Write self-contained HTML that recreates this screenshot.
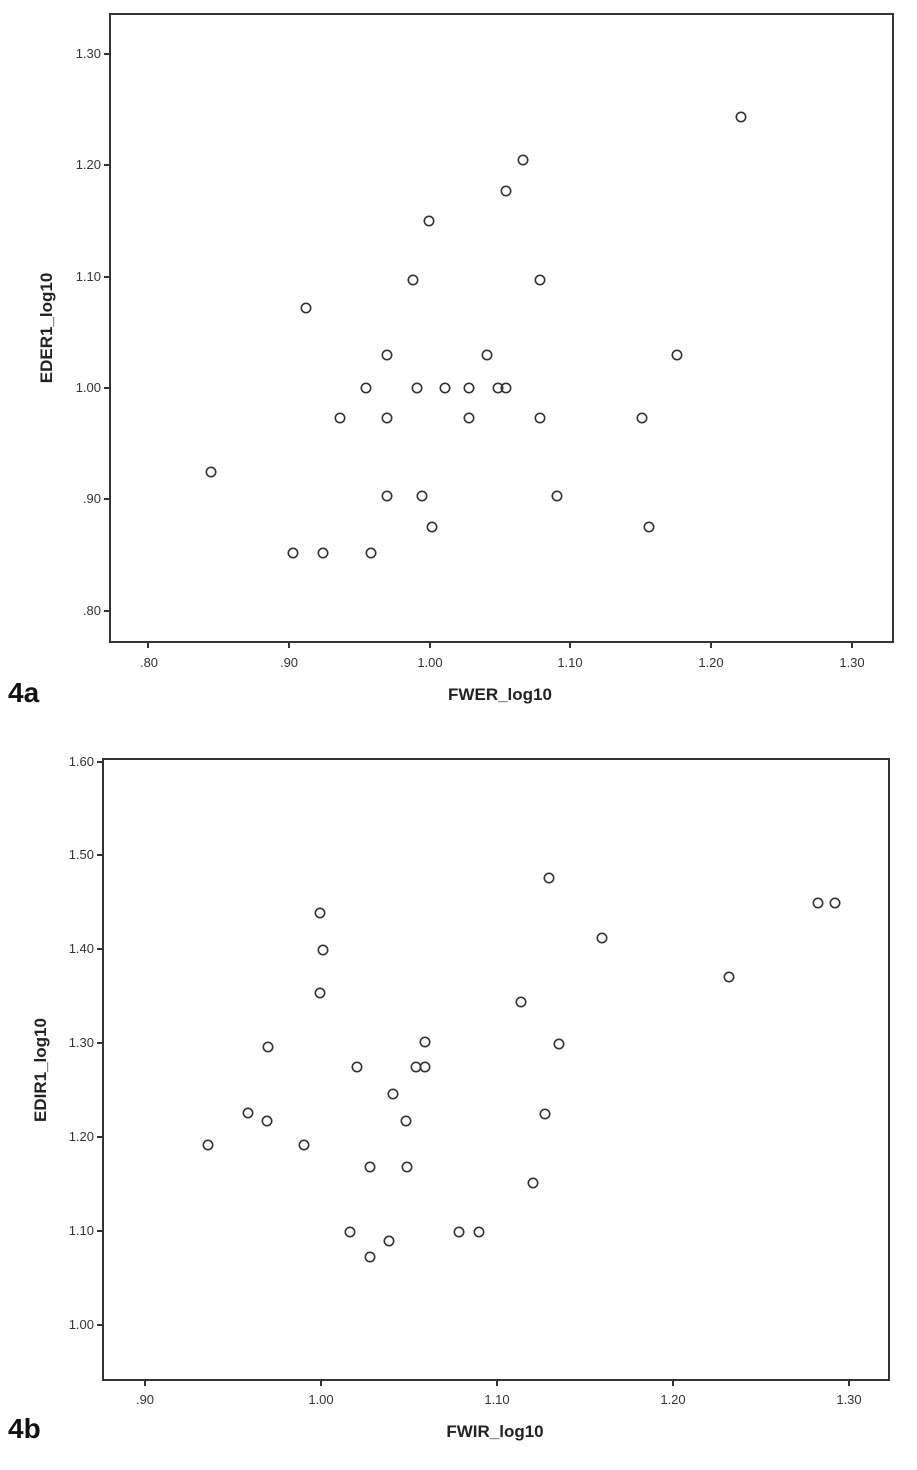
<!DOCTYPE html>
<html><head><style>body{margin:0;background:#fff}svg{display:block}</style></head><body>
<svg width="917" height="1470" xmlns="http://www.w3.org/2000/svg" font-family="Liberation Sans, sans-serif">
<rect width="917" height="1470" fill="#fff"/>
<g stroke="#333" stroke-width="2" fill="none">
<rect x="110" y="14" width="783" height="628"/>
<rect x="103" y="759" width="786" height="621"/>
</g>
<g stroke="#333" stroke-width="2">
<line x1="104" x2="110" y1="54" y2="54"/><line x1="104" x2="110" y1="165" y2="165"/><line x1="104" x2="110" y1="277" y2="277"/><line x1="104" x2="110" y1="388" y2="388"/><line x1="104" x2="110" y1="499" y2="499"/><line x1="104" x2="110" y1="611" y2="611"/>
<line y1="642" y2="648" x1="148" x2="148"/><line y1="642" y2="648" x1="289" x2="289"/><line y1="642" y2="648" x1="430" x2="430"/><line y1="642" y2="648" x1="570" x2="570"/><line y1="642" y2="648" x1="711" x2="711"/><line y1="642" y2="648" x1="852" x2="852"/>
<line x1="97" x2="103" y1="762" y2="762"/><line x1="97" x2="103" y1="855" y2="855"/><line x1="97" x2="103" y1="949" y2="949"/><line x1="97" x2="103" y1="1043" y2="1043"/><line x1="97" x2="103" y1="1137" y2="1137"/><line x1="97" x2="103" y1="1231" y2="1231"/><line x1="97" x2="103" y1="1325" y2="1325"/>
<line y1="1380" y2="1386" x1="145" x2="145"/><line y1="1380" y2="1386" x1="321" x2="321"/><line y1="1380" y2="1386" x1="497" x2="497"/><line y1="1380" y2="1386" x1="673" x2="673"/><line y1="1380" y2="1386" x1="849" x2="849"/>
</g>
<g font-size="13" fill="#333" text-anchor="end">
<text x="101" y="58">1.30</text><text x="101" y="169">1.20</text><text x="101" y="281">1.10</text><text x="101" y="392">1.00</text><text x="101" y="503">.90</text><text x="101" y="615">.80</text>
<text x="94" y="766">1.60</text><text x="94" y="859">1.50</text><text x="94" y="953">1.40</text><text x="94" y="1047">1.30</text><text x="94" y="1141">1.20</text><text x="94" y="1235">1.10</text><text x="94" y="1329">1.00</text>
</g>
<g font-size="13" fill="#333" text-anchor="middle">
<text x="149" y="667">.80</text><text x="289" y="667">.90</text><text x="430" y="667">1.00</text><text x="570" y="667">1.10</text><text x="711" y="667">1.20</text><text x="852" y="667">1.30</text>
<text x="145" y="1404">.90</text><text x="321" y="1404">1.00</text><text x="497" y="1404">1.10</text><text x="673" y="1404">1.20</text><text x="849" y="1404">1.30</text>
</g>
<g font-weight="bold" fill="#222" text-anchor="middle" font-size="17">
<text x="500" y="700">FWER_log10</text>
<text x="495" y="1437">FWIR_log10</text>
<text transform="translate(52,328) rotate(-90)">EDER1_log10</text>
<text transform="translate(46,1070) rotate(-90)">EDIR1_log10</text>
</g>
<g font-weight="bold" fill="#111" font-size="28">
<text x="8" y="702">4a</text><text x="8" y="1438">4b</text>
</g>
<g fill="none" stroke="#333" stroke-width="1.6">
<circle cx="741" cy="117" r="4.7"/><circle cx="523" cy="160" r="4.7"/><circle cx="506" cy="191" r="4.7"/><circle cx="429" cy="221" r="4.7"/><circle cx="413" cy="280" r="4.7"/><circle cx="540" cy="280" r="4.7"/><circle cx="306" cy="308" r="4.7"/><circle cx="387" cy="355" r="4.7"/><circle cx="487" cy="355" r="4.7"/><circle cx="677" cy="355" r="4.7"/><circle cx="366" cy="388" r="4.7"/><circle cx="417" cy="388" r="4.7"/><circle cx="445" cy="388" r="4.7"/><circle cx="469" cy="388" r="4.7"/><circle cx="498" cy="388" r="4.7"/><circle cx="506" cy="388" r="4.7"/><circle cx="340" cy="418" r="4.7"/><circle cx="387" cy="418" r="4.7"/><circle cx="469" cy="418" r="4.7"/><circle cx="540" cy="418" r="4.7"/><circle cx="642" cy="418" r="4.7"/><circle cx="211" cy="472" r="4.7"/><circle cx="387" cy="496" r="4.7"/><circle cx="422" cy="496" r="4.7"/><circle cx="557" cy="496" r="4.7"/><circle cx="432" cy="527" r="4.7"/><circle cx="649" cy="527" r="4.7"/><circle cx="293" cy="553" r="4.7"/><circle cx="323" cy="553" r="4.7"/><circle cx="371" cy="553" r="4.7"/>
<circle cx="549" cy="878" r="4.7"/><circle cx="818" cy="903" r="4.7"/><circle cx="835" cy="903" r="4.7"/><circle cx="320" cy="913" r="4.7"/><circle cx="602" cy="938" r="4.7"/><circle cx="323" cy="950" r="4.7"/><circle cx="729" cy="977" r="4.7"/><circle cx="320" cy="993" r="4.7"/><circle cx="521" cy="1002" r="4.7"/><circle cx="425" cy="1042" r="4.7"/><circle cx="559" cy="1044" r="4.7"/><circle cx="268" cy="1047" r="4.7"/><circle cx="357" cy="1067" r="4.7"/><circle cx="416" cy="1067" r="4.7"/><circle cx="425" cy="1067" r="4.7"/><circle cx="393" cy="1094" r="4.7"/><circle cx="248" cy="1113" r="4.7"/><circle cx="545" cy="1114" r="4.7"/><circle cx="267" cy="1121" r="4.7"/><circle cx="406" cy="1121" r="4.7"/><circle cx="208" cy="1145" r="4.7"/><circle cx="304" cy="1145" r="4.7"/><circle cx="370" cy="1167" r="4.7"/><circle cx="407" cy="1167" r="4.7"/><circle cx="533" cy="1183" r="4.7"/><circle cx="350" cy="1232" r="4.7"/><circle cx="459" cy="1232" r="4.7"/><circle cx="479" cy="1232" r="4.7"/><circle cx="389" cy="1241" r="4.7"/><circle cx="370" cy="1257" r="4.7"/>
</g>
</svg>
</body></html>
